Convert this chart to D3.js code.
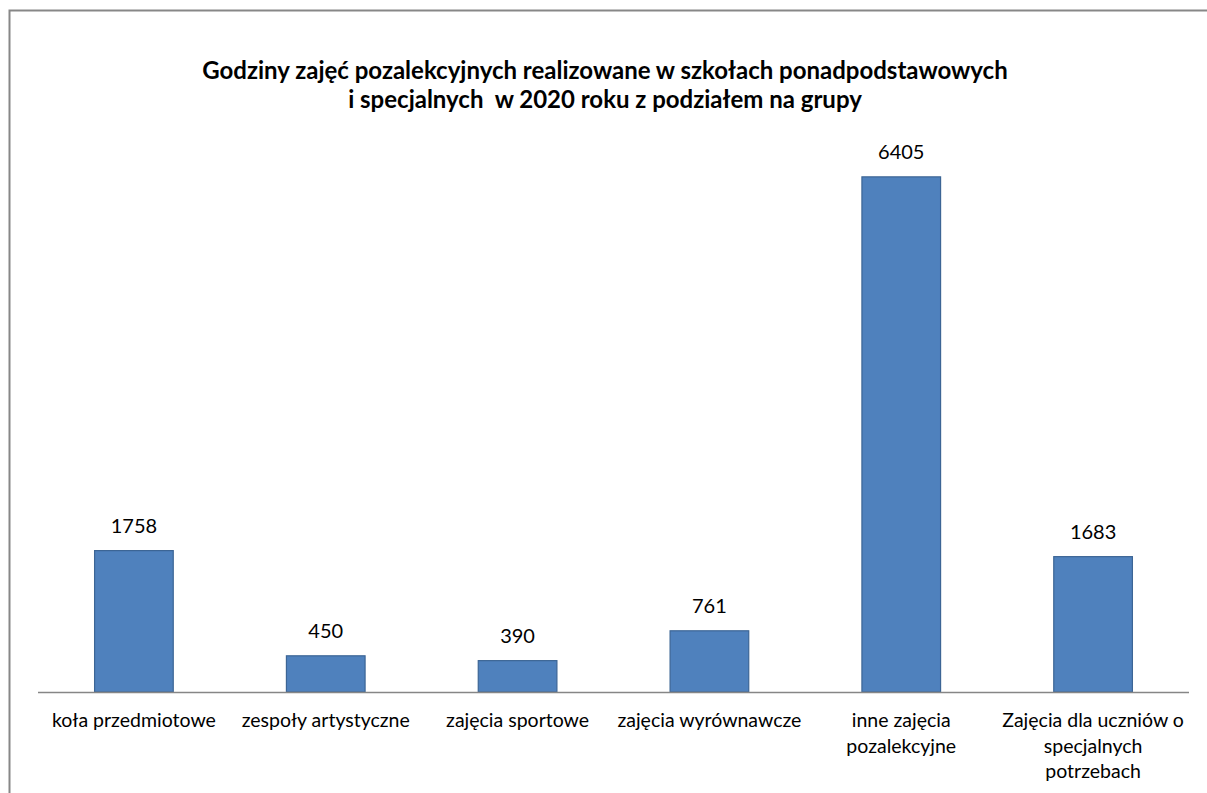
<!DOCTYPE html>
<html lang="pl">
<head>
<meta charset="utf-8">
<title>Godziny zajęć pozalekcyjnych</title>
<script src="https://cdn.jsdelivr.net/npm/d3@7"></script>
<style>
  body { margin: 0; background: #fff; }
  text { font-family: Lato, "Open Sans", sans-serif; fill: #000; }
  .title { font-weight: bold; font-size: 24px; white-space: pre; }
  .val { font-size: 20px; }
  .cat { font-size: 19.5px; }
</style>
</head>
<body>
<svg id="chart" width="1207" height="793"></svg>
<script>

// data
var categories = [
  ["koła przedmiotowe"],
  ["zespoły artystyczne"],
  ["zajęcia sportowe"],
  ["zajęcia wyrównawcze"],
  ["inne zajęcia", "pozalekcyjne"],
  ["Zajęcia dla uczniów o", "specjalnych", "potrzebach"]
];
var values = [1758, 450, 390, 761, 6405, 1683];
var titleLines = [
  "Godziny zajęć pozalekcyjnych realizowane w szkołach ponadpodstawowych",
  "i specjalnych  w 2020 roku z podziałem na grupy"
];

var svg = d3.select("#chart");

// outer frame
svg.append("rect")
    .attr("x", 9.5).attr("y", 10.5)
    .attr("width", 1210).attr("height", 800)
    .attr("fill", "none")
    .attr("stroke", "#878787")
    .attr("stroke-width", 2);

svg.append("g").selectAll("text")
    .data(titleLines)
    .enter().append("text")
      .attr("class", "title")
      .attr("x", 605)
      .attr("y", function(d, i) { return 79 + i * 29; })
      .attr("text-anchor", "middle")
      .text(function(d) { return d; });

var idx = d3.range(values.length);

var x = d3.scaleBand()
    .domain(idx)
    .range([38, 1189])
    .paddingInner(0.59)
    .paddingOuter(0.295);

var y = d3.scaleLinear()
    .domain([0, 7000])
    .range([692, 129]);

svg.append("g").selectAll("rect")
    .data(idx)
    .enter().append("rect")
      .attr("x", function(i) { return x(i); })
      .attr("y", function(i) { return y(values[i]); })
      .attr("width", x.bandwidth())
      .attr("height", function(i) { return y(0) - y(values[i]); })
      .attr("fill", "#4f81bd")
      .attr("stroke", "#3c6595")
      .attr("stroke-width", 1.2);

svg.append("line")
    .attr("x1", 38).attr("x2", 1189)
    .attr("y1", y(0) + 0.5).attr("y2", y(0) + 0.5)
    .attr("stroke", "#868686")
    .attr("stroke-width", 1.5);

svg.append("g").selectAll("text")
    .data(idx)
    .enter().append("text")
      .attr("class", "val")
      .attr("x", function(i) { return x(i) + x.bandwidth() / 2; })
      .attr("y", function(i) { return y(values[i]) - 18; })
      .attr("text-anchor", "middle")
      .text(function(i) { return values[i]; });

var cat = svg.append("g").selectAll("text")
    .data(idx)
    .enter().append("text")
      .attr("class", "cat")
      .attr("text-anchor", "middle")
      .attr("x", function(i) { return x(i) + x.bandwidth() / 2; })
      .attr("y", 727);

cat.selectAll("tspan")
    .data(function(i) { return categories[i].map(function(s) { return { s: s, i: i }; }); })
    .enter().append("tspan")
      .attr("x", function(d) { return x(d.i) + x.bandwidth() / 2; })
      .attr("dy", function(d, k) { return k === 0 ? 0 : 25.5; })
      .text(function(d) { return d.s; });

</script>
</body>
</html>
